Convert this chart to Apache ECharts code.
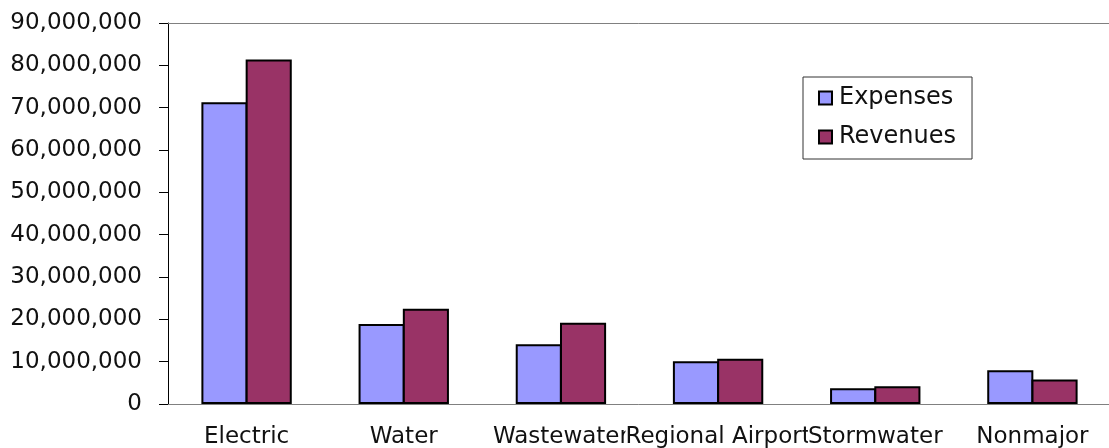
<!DOCTYPE html>
<html>
<head>
<meta charset="utf-8">
<title>Expenses and Revenues by Fund</title>
<script src="https://cdn.jsdelivr.net/npm/echarts@6/dist/echarts.min.js"></script>
<style>
  html, body { margin: 0; padding: 0; background: #fff; }
  #chart { width: 1109px; height: 448px; }
</style>
</head>
<body>
<div id="chart"></div>
<script>
// Fund categories along the x axis
const categories = ['Electric', 'Water', 'Wastewater', 'Regional Airport', 'Stormwater', 'Nonmajor'];

// Annual amounts per fund (dollars)
const expenses = [71300000, 18900000, 14100000, 10100000, 3700000, 8000000];
const revenues = [81400000, 22500000, 19200000, 10700000, 4200000, 5800000];

// Value axis range and step
const yMin = 0;
const yMax = 90000000;
const yStep = 10000000;

const fontFamily = '"DejaVu Sans", "Liberation Sans", Arial, sans-serif';

const chart = echarts.init(document.getElementById('chart'), null, { renderer: 'canvas' });

chart.setOption({
  animation: false,
  backgroundColor: '#ffffff',
  textStyle: { fontFamily: fontFamily },
  grid: {
    left: 168,
    top: 23,
    bottom: 44,
    right: -2,
    outerBoundsMode: 'none',
    show: false
  },
  legend: {
    orient: 'vertical',
    left: 803,
    top: 77,
    padding: [9, 16, 10, 15],
    itemGap: 15,
    itemWidth: 13,
    itemHeight: 13,
    icon: 'rect',
    borderColor: '#333',
    borderWidth: 1,
    backgroundColor: '#ffffff',
    textStyle: { fontSize: 24, color: '#111', fontFamily: fontFamily, padding: [0, 0, 0, 2] },
    data: ['Expenses', 'Revenues']
  },
  xAxis: [
    {
      type: 'category',
      data: categories,
      position: 'bottom',
      axisLine: { show: true, lineStyle: { color: '#808080', width: 1 } },
      axisTick: { show: false },
      axisLabel: {
        interval: 0,
        margin: 22,
        fontSize: 23,
        color: '#111',
        fontFamily: fontFamily,
        backgroundColor: '#ffffff'
      },
      splitLine: { show: false }
    },
    {
      // plot-area top edge
      type: 'category',
      data: categories,
      position: 'top',
      axisLine: { show: true, lineStyle: { color: '#808080', width: 1 } },
      axisTick: { show: false },
      axisLabel: { show: false },
      splitLine: { show: false }
    }
  ],
  yAxis: {
    type: 'value',
    min: yMin,
    max: yMax,
    interval: yStep,
    axisLine: { show: true, lineStyle: { color: '#000', width: 1 } },
    axisTick: { show: true, length: 9, inside: false, lineStyle: { color: '#000' } },
    axisLabel: {
      margin: 26,
      fontSize: 23,
      color: '#111',
      fontFamily: fontFamily,
      formatter: v => v.toLocaleString('en-US')
    },
    splitLine: { show: false }
  },
  series: [
    {
      name: 'Expenses',
      type: 'bar',
      data: expenses,
      barGap: '-4%',
      barCategoryGap: '42.5%',
      itemStyle: { color: '#9999ff', borderColor: '#000', borderWidth: 2 }
    },
    {
      name: 'Revenues',
      type: 'bar',
      data: revenues,
      barGap: '-4%',
      barCategoryGap: '42.5%',
      itemStyle: { color: '#993366', borderColor: '#000', borderWidth: 2 }
    }
  ]
});
</script>
</body>
</html>
